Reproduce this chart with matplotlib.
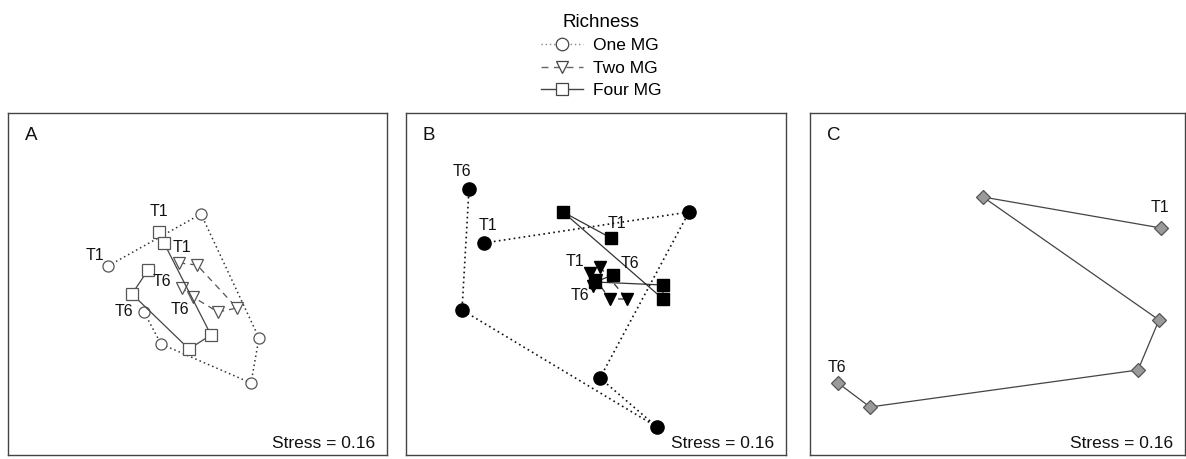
import matplotlib
matplotlib.use("Agg")
import matplotlib.pyplot as plt
from matplotlib.lines import Line2D

plt.rcParams['font.family'] = ['Liberation Sans', 'DejaVu Sans']

# ---- data (NMDS scores, arbitrary units) ----
panels = ["A", "B", "C"]
stress = [0.16, 0.16, 0.16]

# Panel A
a_one_x = [100, 193, 251, 243, 153, 136]
a_one_y = [189, 241, 117, 72, 111, 143]
a_two_x = [171, 189, 229, 210, 185, 174]
a_two_y = [192, 190, 147, 143, 158, 167]
a_four_x = [151, 156, 203, 181, 124, 140]
a_four_y = [223, 212, 120, 106, 161, 185]

# Panel B
b_one_x = [78, 283, 194, 251, 56, 63]
b_one_y = [212, 243, 77, 28, 145, 266]
b_two_x = [184, 194, 221, 204, 190, 187]
b_two_y = [182, 188, 156, 156, 175, 169]
b_four_x = [205, 157, 257, 257, 189, 207]
b_four_y = [217, 243, 156, 170, 173, 180]

# Panel C
c_x = [351, 173, 349, 328, 60, 28]
c_y = [227, 258, 135, 85, 48, 72]

time_labels = ["T1", "T6"]
richness = ["One MG", "Two MG", "Four MG"]

W, H = 1186, 459
fig = plt.figure(figsize=(W / 100, H / 100), dpi=100)

boxes = [(8, 379), (406, 380), (810, 375)]
bottom_px, top_px = 455, 113
axes = []
for (left, width) in boxes:
    ax = fig.add_axes([left / W, (H - bottom_px) / H, width / W, (bottom_px - top_px) / H])
    ax.set_xlim(0, width)
    ax.set_ylim(0, bottom_px - top_px)
    ax.set_xticks([])
    ax.set_yticks([])
    for s in ax.spines.values():
        s.set_color('#444444')
        s.set_linewidth(1.0)
    axes.append(ax)

lc = '#555555'
dotted = (0, (1, 2))
dashed = (0, (5, 4))

def label(ax, x, y, txt, dx, dy):
    ax.annotate(txt, (x, y), xytext=(dx, dy), textcoords='offset pixels',
                ha='center', va='center', fontsize=11.5, color='#111111')

# Panel A (open symbols)
ax = axes[0]
ax.plot(a_one_x, a_one_y, linestyle=dotted, color='#333333', lw=1.1,
        marker='o', ms=8, mfc='white', mec=lc, mew=0.9)
ax.plot(a_two_x, a_two_y, linestyle=dashed, color=lc, lw=0.9,
        marker='v', ms=8, mfc='white', mec=lc, mew=0.9)
ax.plot(a_four_x, a_four_y, linestyle='-', color='#444444', lw=0.9,
        marker='s', ms=8, mfc='white', mec=lc, mew=0.9)
label(ax, a_one_x[0], a_one_y[0], time_labels[0], -13, 11)
label(ax, a_one_x[-1], a_one_y[-1], time_labels[1], -20, 0)
label(ax, a_four_x[0], a_four_y[0], time_labels[0], 0, 20)
label(ax, a_four_x[-1], a_four_y[-1], time_labels[1], 14, -12)
label(ax, a_two_x[0], a_two_y[0], time_labels[0], 3, 15)
label(ax, a_two_x[-1], a_two_y[-1], time_labels[1], -2, -21)

# Panel B (filled symbols)
ax = axes[1]
ax.plot(b_one_x, b_one_y, linestyle=dotted, color='#111111', lw=1.2,
        marker='o', ms=9.5, mfc='black', mec='black')
ax.plot(b_two_x, b_two_y, linestyle=dashed, color='#333333', lw=0.9,
        marker='v', ms=9, mfc='black', mec='black')
ax.plot(b_four_x, b_four_y, linestyle='-', color='#333333', lw=0.9,
        marker='s', ms=8, mfc='black', mec='black')
label(ax, b_one_x[0], b_one_y[0], time_labels[0], 4, 18)
label(ax, b_one_x[-1], b_one_y[-1], time_labels[1], -7, 17)
label(ax, b_four_x[0], b_four_y[0], time_labels[0], 6, 15)
label(ax, b_four_x[-1], b_four_y[-1], time_labels[1], 17, 12)
label(ax, b_two_x[0], b_two_y[0], time_labels[0], -15, 11)
label(ax, b_two_x[-1], b_two_y[-1], time_labels[1], -13, -9)

# Panel C (grey diamonds)
ax = axes[2]
ax.plot(c_x, c_y, linestyle='-', color='#444444', lw=0.9,
        marker='D', ms=7, mfc='#9a9a9a', mec='#555555', mew=0.9)
label(ax, c_x[0], c_y[0], time_labels[0], -1, 21)
label(ax, c_x[-1], c_y[-1], time_labels[1], -1, 16)

for ax, p, s in zip(axes, panels, stress):
    ax.text(17 / ax.get_xlim()[1], 1 - 22 / 342, p, transform=ax.transAxes,
            fontsize=13.5, ha='left', va='center', color='#111111')
    ax.text(1 - 12 / ax.get_xlim()[1], 12 / 342, f"Stress = {s:.2f}",
            transform=ax.transAxes, fontsize=12.5, ha='right', va='center',
            color='#111111')

handles = [
    Line2D([], [], linestyle=dotted, color='#888888', lw=1.0, marker='o', ms=9,
           mfc='white', mec='#444444', mew=0.9),
    Line2D([], [], linestyle=dashed, color='#666666', lw=1.0, marker='v', ms=9,
           mfc='white', mec='#444444', mew=0.9),
    Line2D([], [], linestyle='-', color='#444444', lw=1.0, marker='s', ms=9,
           mfc='white', mec='#444444', mew=0.9),
]
leg = fig.legend(handles, richness, title="Richness", loc='upper center',
                 bbox_to_anchor=(0.507, 1.0), frameon=False, fontsize=12.5,
                 title_fontsize=13.5, handlelength=2.4, handletextpad=0.6,
                 labelspacing=0.42, borderpad=0.3)

fig.savefig("out.png", dpi=100)
